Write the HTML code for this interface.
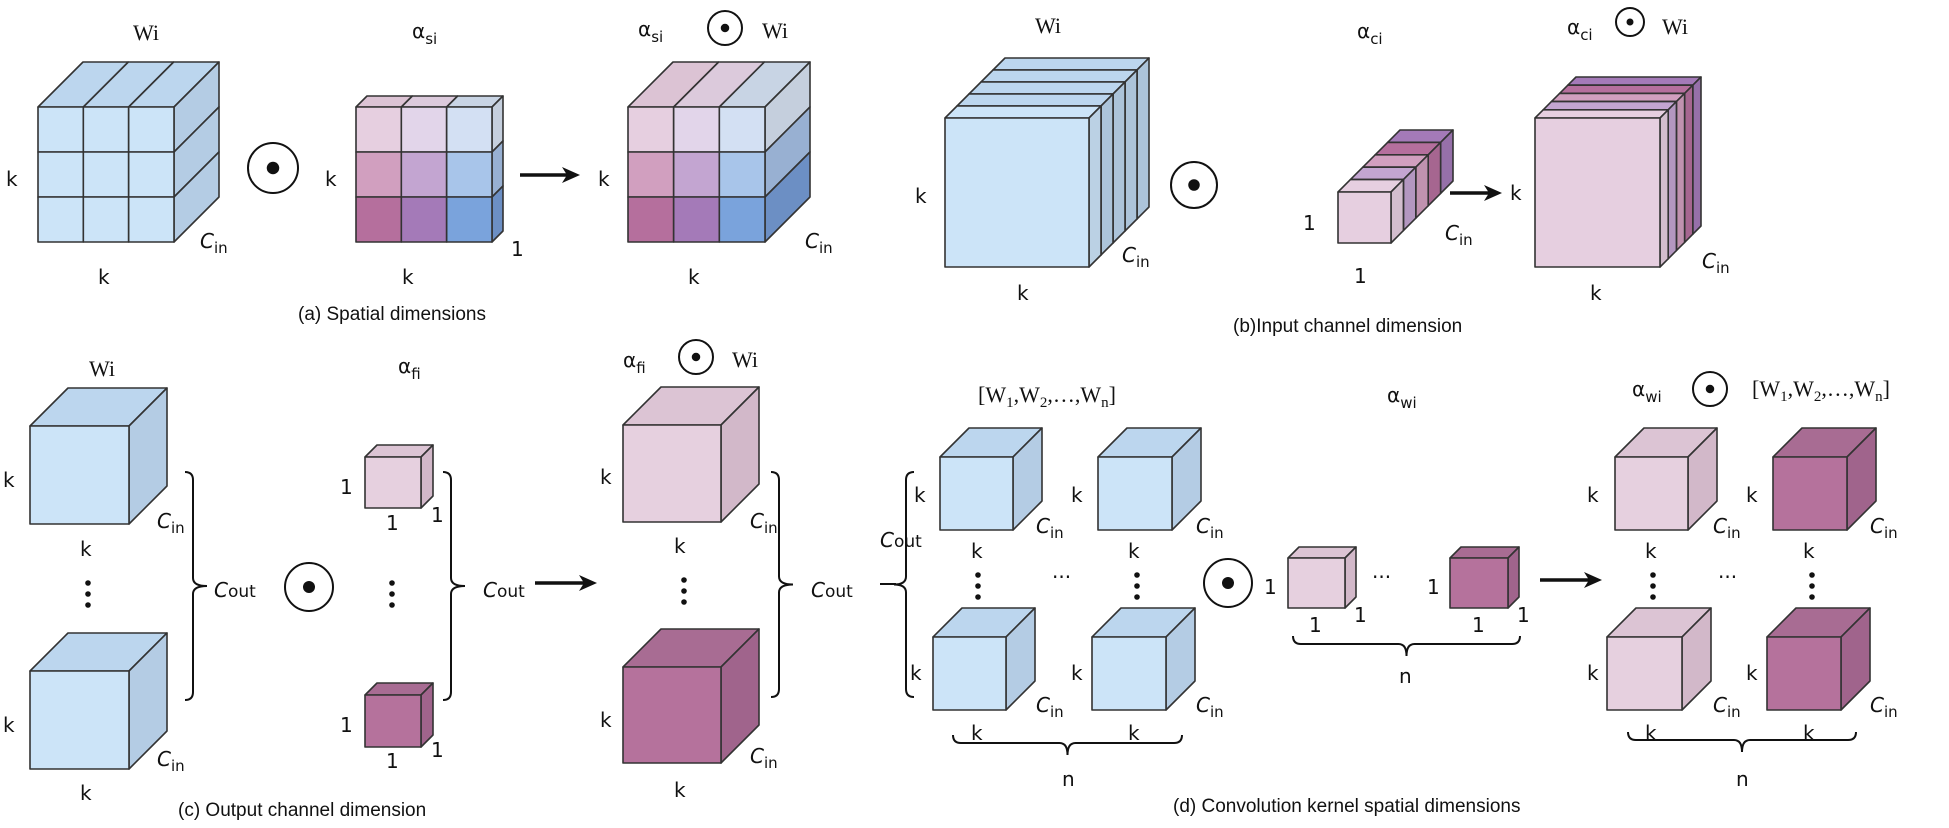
<!DOCTYPE html>
<html><head><meta charset="utf-8"><style>
html,body{margin:0;padding:0;background:#fff;}
svg{display:block;}
text{font-family:"DejaVu Sans","Liberation Sans",sans-serif;fill:#111;}
.k{font-size:20px;}
.cap{font-family:"Liberation Sans",sans-serif;font-size:19px;}
.ser{font-family:"Liberation Serif",serif;font-size:22px;}
.it{font-style:italic;}
</style></head><body>
<svg id="s" width="1949" height="828" viewBox="0 0 1949 828" xmlns="http://www.w3.org/2000/svg">
<g id="shapes"></g>
<g id="txt">
<!-- (a) -->
<text class="ser" x="133" y="40">Wi</text>
<text class="k" x="412" y="38">α<tspan font-size="15" dy="6">si</tspan></text>
<text class="k" x="638" y="36">α<tspan font-size="15" dy="6">si</tspan></text>
<text class="ser" x="762" y="38">Wi</text>
<text class="k" x="6" y="186">k</text>
<text class="k" x="325" y="186">k</text>
<text class="k" x="598" y="186">k</text>
<text class="k" x="98" y="284">k</text>
<text class="k" x="402" y="284">k</text>
<text class="k" x="688" y="284">k</text>
<text class="k" x="511" y="256">1</text>
<text class="k it" x="200" y="248">C<tspan font-size="15" font-style="normal" dy="5">in</tspan></text>
<text class="k it" x="805" y="248">C<tspan font-size="15" font-style="normal" dy="5">in</tspan></text>
<text class="cap" x="298" y="320">(a) Spatial dimensions</text>
<!-- (b) -->
<text class="ser" x="1035" y="33">Wi</text>
<text class="k" x="1357" y="38">α<tspan font-size="15" dy="6">ci</tspan></text>
<text class="k" x="1567" y="34">α<tspan font-size="15" dy="6">ci</tspan></text>
<text class="ser" x="1662" y="34">Wi</text>
<text class="k" x="915" y="203">k</text>
<text class="k" x="1510" y="200">k</text>
<text class="k" x="1017" y="300">k</text>
<text class="k" x="1590" y="300">k</text>
<text class="k" x="1303" y="230">1</text>
<text class="k" x="1354" y="283">1</text>
<text class="k it" x="1122" y="262">C<tspan font-size="15" font-style="normal" dy="5">in</tspan></text>
<text class="k it" x="1445" y="240">C<tspan font-size="15" font-style="normal" dy="5">in</tspan></text>
<text class="k it" x="1702" y="268">C<tspan font-size="15" font-style="normal" dy="5">in</tspan></text>
<text class="cap" x="1233" y="332">(b)Input channel dimension</text>
<!-- (c) -->
<text class="ser" x="89" y="376">Wi</text>
<text class="k" x="398" y="373">α<tspan font-size="15" dy="6">fi</tspan></text>
<text class="k" x="623" y="367">α<tspan font-size="15" dy="6">fi</tspan></text>
<text class="ser" x="732" y="367">Wi</text>
<text class="k" x="3" y="487">k</text>
<text class="k" x="3" y="732">k</text>
<text class="k" x="80" y="556">k</text>
<text class="k" x="80" y="800">k</text>
<text class="k it" x="157" y="528">C<tspan font-size="15" font-style="normal" dy="5">in</tspan></text>
<text class="k it" x="157" y="766">C<tspan font-size="15" font-style="normal" dy="5">in</tspan></text>
<text class="k it" x="214" y="597">C<tspan font-size="17" font-style="normal">out</tspan></text>
<text class="k" x="340" y="494">1</text>
<text class="k" x="386" y="530">1</text>
<text class="k" x="431" y="522">1</text>
<text class="k" x="340" y="732">1</text>
<text class="k" x="386" y="768">1</text>
<text class="k" x="431" y="757">1</text>
<text class="k it" x="483" y="597">C<tspan font-size="17" font-style="normal">out</tspan></text>
<text class="k" x="600" y="484">k</text>
<text class="k" x="600" y="727">k</text>
<text class="k" x="674" y="553">k</text>
<text class="k" x="674" y="797">k</text>
<text class="k it" x="750" y="528">C<tspan font-size="15" font-style="normal" dy="5">in</tspan></text>
<text class="k it" x="750" y="763">C<tspan font-size="15" font-style="normal" dy="5">in</tspan></text>
<text class="k it" x="811" y="597">C<tspan font-size="17" font-style="normal">out</tspan></text>
<text class="cap" x="178" y="816">(c) Output channel dimension</text>
<!-- (d) -->
<text class="ser" x="978" y="402">[W<tspan font-size="15" dy="5">1</tspan><tspan dy="-5">,W</tspan><tspan font-size="15" dy="5">2</tspan><tspan dy="-5">,…,W</tspan><tspan font-size="15" dy="5">n</tspan><tspan dy="-5">]</tspan></text>
<text class="k" x="1387" y="402">α<tspan font-size="15" dy="6">wi</tspan></text>
<text class="k" x="1632" y="396">α<tspan font-size="15" dy="6">wi</tspan></text>
<text class="ser" x="1752" y="396">[W<tspan font-size="15" dy="5">1</tspan><tspan dy="-5">,W</tspan><tspan font-size="15" dy="5">2</tspan><tspan dy="-5">,…,W</tspan><tspan font-size="15" dy="5">n</tspan><tspan dy="-5">]</tspan></text>
<text class="k" x="914" y="502">k</text>
<text class="k it" x="880" y="547">C<tspan font-size="17" font-style="normal">out</tspan></text>
<text class="k" x="1071" y="502">k</text>
<text class="k" x="1071" y="680">k</text>
<text class="k" x="910" y="680">k</text>
<text class="k" x="971" y="558">k</text>
<text class="k" x="1128" y="558">k</text>
<text class="k" x="1128" y="740">k</text>
<text class="k" x="971" y="740">k</text>
<text class="k it" x="1036" y="533">C<tspan font-size="15" font-style="normal" dy="5">in</tspan></text>
<text class="k it" x="1196" y="533">C<tspan font-size="15" font-style="normal" dy="5">in</tspan></text>
<text class="k it" x="1036" y="712">C<tspan font-size="15" font-style="normal" dy="5">in</tspan></text>
<text class="k it" x="1196" y="712">C<tspan font-size="15" font-style="normal" dy="5">in</tspan></text>
<text class="k" x="1052" y="584" font-size="20">···</text>
<text class="k" x="1062" y="786">n</text>
<text class="k" x="1264" y="594">1</text>
<text class="k" x="1309" y="632">1</text>
<text class="k" x="1354" y="622">1</text>
<text class="k" x="1372" y="584">···</text>
<text class="k" x="1427" y="594">1</text>
<text class="k" x="1472" y="632">1</text>
<text class="k" x="1517" y="622">1</text>
<text class="k" x="1399" y="683">n</text>
<text class="k" x="1587" y="502">k</text>
<text class="k" x="1746" y="502">k</text>
<text class="k" x="1587" y="680">k</text>
<text class="k" x="1746" y="680">k</text>
<text class="k" x="1645" y="558">k</text>
<text class="k" x="1803" y="558">k</text>
<text class="k" x="1645" y="740">k</text>
<text class="k" x="1803" y="740">k</text>
<text class="k it" x="1713" y="533">C<tspan font-size="15" font-style="normal" dy="5">in</tspan></text>
<text class="k it" x="1870" y="533">C<tspan font-size="15" font-style="normal" dy="5">in</tspan></text>
<text class="k it" x="1713" y="712">C<tspan font-size="15" font-style="normal" dy="5">in</tspan></text>
<text class="k it" x="1870" y="712">C<tspan font-size="15" font-style="normal" dy="5">in</tspan></text>
<text class="k" x="1718" y="584">···</text>
<text class="k" x="1736" y="786">n</text>
<text class="cap" x="1173" y="812">(d) Convolution kernel spatial dimensions</text>
</g>
</svg>
<script>
var G=document.getElementById('shapes'),NS='http://www.w3.org/2000/svg';
function el(t,a){var e=document.createElementNS(NS,t);for(var k in a)e.setAttribute(k,a[k]);G.appendChild(e);return e;}
function poly(pts,f){el('polygon',{points:pts.map(function(p){return p.join(',')}).join(' '),fill:f,stroke:'#333','stroke-width':1.6,'stroke-linejoin':'round'});}
var BL=['#cce4f8','#bcd6ee','#b4cce4'],PK=['#e6d0df','#dcc4d4','#d2b8c9'],MG=['#b5729c','#a86c93','#a0648c'];
function cube(x,y,w,h,d,c){poly([[x,y],[x+d,y-d],[x+w+d,y-d],[x+w,y]],c[1]);poly([[x+w,y],[x+w+d,y-d],[x+w+d,y+h-d],[x+w,y+h]],c[2]);poly([[x,y],[x+w,y],[x+w,y+h],[x,y+h]],c[0]);}
function gcube(x,y,w,h,d,front,tops,sides){var cw=w/3,ch=h/3,i,j;
 for(i=0;i<3;i++){poly([[x+i*cw,y],[x+i*cw+d,y-d],[x+(i+1)*cw+d,y-d],[x+(i+1)*cw,y]],tops[i]);}
 for(j=0;j<3;j++){poly([[x+w,y+j*ch],[x+w+d,y+j*ch-d],[x+w+d,y+(j+1)*ch-d],[x+w,y+(j+1)*ch]],sides[j]);}
 for(j=0;j<3;j++)for(i=0;i<3;i++)poly([[x+i*cw,y+j*ch],[x+(i+1)*cw,y+j*ch],[x+(i+1)*cw,y+(j+1)*ch],[x+i*cw,y+(j+1)*ch]],front[j][i]);}
function scube(x,y,w,h,s,n,cols){for(var i=n-1;i>=0;i--){var c=cols[i];cube(x+i*s,y-i*s,w,h,s,[c,c,shade(c)]);}}
function shade(c){var n=parseInt(c.slice(1),16),r=(n>>16)*0.92|0,g=((n>>8)&255)*0.92|0,b=(n&255)*0.92|0;return 'rgb('+r+','+g+','+b+')';}
function odot(cx,cy,r){el('circle',{cx:cx,cy:cy,r:r,fill:'none',stroke:'#111','stroke-width':2});el('circle',{cx:cx,cy:cy,r:r*0.25,fill:'#111'});}
function arrow(x1,x2,y){el('line',{x1:x1,y1:y,x2:x2-12,y2:y,stroke:'#111','stroke-width':3.5});poly2([[x2,y],[x2-18,y-8],[x2-13,y],[x2-18,y+8]]);}
function poly2(p){el('polygon',{points:p.map(function(q){return q.join(',')}).join(' '),fill:'#111'});}
function vdots(x,y1){for(var i=0;i<3;i++)el('circle',{cx:x,cy:y1+i*11,r:2.8,fill:'#111'});}
function braceR(x,top,bot,w){var m=(top+bot)/2,r=8;el('path',{d:'M'+x+','+top+' q'+r+',0 '+r+','+r+' V'+(m-r)+' q0,'+r+' '+(w-r)+','+r+' q'+(-(w-r))+',0 '+(-(w-r))+','+r+' V'+(bot-r)+' q0,'+r+' '+(-r)+','+r,fill:'none',stroke:'#111','stroke-width':2});}
function braceL(x,top,bot,w){var m=(top+bot)/2,r=8;el('path',{d:'M'+x+','+top+' q'+(-r)+',0 '+(-r)+','+r+' V'+(m-r)+' q0,'+r+' '+(-(w-r))+','+r+' q'+(w-r)+',0 '+(w-r)+','+r+' V'+(bot-r)+' q0,'+r+' '+r+','+r,fill:'none',stroke:'#111','stroke-width':2});}
function braceB(x1,x2,y,h){var m=(x1+x2)/2,r=8;el('path',{d:'M'+x1+','+y+' q0,'+r+' '+r+','+r+' H'+(m-r)+' q'+r+',0 '+r+','+(h-r)+' q0,'+(-(h-r))+' '+r+','+(-(h-r))+' H'+(x2-r)+' q'+r+',0 '+r+','+(-r),fill:'none',stroke:'#111','stroke-width':2});}
// (a)
var b=BL;gcube(38,107,136,135,45,[[b[0],b[0],b[0]],[b[0],b[0],b[0]],[b[0],b[0],b[0]]],[b[1],b[1],b[1]],[b[2],b[2],b[2]]);
odot(273,168,25);
var F=[['#e6cfe0','#e2d5ea','#d3e0f3'],['#d19fbf','#c3a5d1','#a8c5ea'],['#b56f9d','#a47ab8','#7aa3dc']];
gcube(356,107,136,135,11,F,['#dcc3d4','#dccadc','#c8d4e4'],['#c5cfdd','#98b0d2','#6c8fc4']);
arrow(520,580,175);
gcube(628,107,137,135,45,F,['#dcc3d4','#dccadc','#c8d4e4'],['#c5cfdd','#98b0d2','#6c8fc4']);
odot(725,28,17);
// (b)
scube(945,118,144,149,12,5,['#cce4f8','#bcd6ee','#bcd6ee','#bcd6ee','#bcd6ee']);
odot(1194,185,23);
scube(1338,192,53,51,12.4,5,['#e6cfe0','#c3a5d1','#d19fbf','#b56f9d','#a47ab8']);
arrow(1450,1502,193);
scube(1535,118,125,149,8.2,5,['#e6cfe0','#c3a5d1','#d19fbf','#b56f9d','#a47ab8']);
odot(1630,22,14);
// (c)
cube(30,426,99,98,38,BL);cube(30,671,99,98,38,BL);vdots(88,583);
braceR(185,472,700,22);odot(309,587,24);
cube(365,457,56,51,12,PK);cube(365,695,56,52,12,MG);vdots(392,583);
braceR(443,472,700,22);arrow(535,597,583);
cube(623,425,98,97,38,PK);cube(623,667,98,96,38,MG);vdots(684,580);
odot(696,357,17);
braceR(771,472,697,22);
// (d)
braceL(914,472,697,20);el('line',{x1:880,y1:584,x2:896,y2:584,stroke:'#111','stroke-width':2});
cube(940,457,73,73,29,BL);cube(1098,457,74,73,29,BL);cube(933,637,73,73,29,BL);cube(1092,637,74,73,29,BL);
vdots(978,575);vdots(1137,575);braceB(953,1182,735,20);
odot(1228,583,24);
cube(1288,558,57,50,11,PK);cube(1450,558,58,50,11,MG);braceB(1293,1520,636,20);
arrow(1540,1602,580);
cube(1615,457,73,73,29,PK);cube(1773,457,74,73,29,MG);cube(1607,637,75,73,29,PK);cube(1767,637,74,73,29,MG);
vdots(1653,575);vdots(1812,575);braceB(1628,1856,732,20);
odot(1710,389,17);
</script>
</body></html>
